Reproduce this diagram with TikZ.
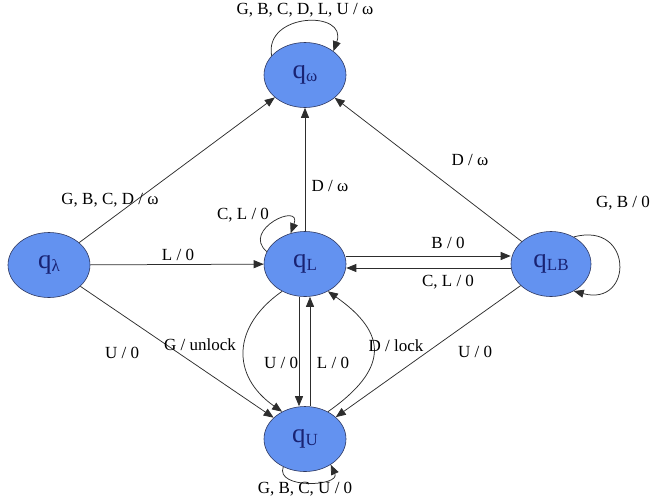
\documentclass[tikz,border=0pt]{standalone}
\usepackage{fontspec}
\setmainfont{Liberation Serif}
\usetikzlibrary{arrows.meta,shapes.geometric}
\definecolor{statefill}{RGB}{99,146,240}
\definecolor{stateline}{RGB}{45,55,95}
\definecolor{statetext}{RGB}{25,35,115}
\definecolor{edgecol}{RGB}{45,45,45}
% state name: a large q with a small, slightly lowered index
\newcommand\stname[1]{q\raisebox{-0.2ex}{\fontsize{17}{17}\selectfont #1}}
\tikzset{
  state/.style={ellipse, draw=stateline, fill=statefill, line width=0.6pt,
    minimum width=82pt, minimum height=65pt, inner sep=0pt,
    text=statetext, font=\fontsize{27}{28}\selectfont},
  trans/.style={draw=edgecol, line width=0.75pt,
    -{Triangle[length=10pt,width=8pt]}},
  lbl/.style={font=\fontsize{17}{19}\selectfont, inner sep=1pt}
}
\begin{document}
\begin{tikzpicture}[x=1pt,y=1pt]
\useasboundingbox (0,0) rectangle (652,-499);

% states
\node[state] (qW) at (305,-75) {\stname{ω}};
\node[state] (qA) at (49,-265) {\stname{λ}};
\node[state] (qL) at (305,-264) {\stname{L}};
\node[state,minimum width=80pt] (qLB) at (551,-264) {\stname{LB}};
\node[state] (qU) at (305,-439) {\stname{U}};

% transitions out of q_lambda
\draw[trans] (qA) -- (qW);
\draw[trans] (qA) -- (qL);
\draw[trans] (qA) -- (qU);

% into q_omega and q_U from the middle and right
\draw[trans] (qL) -- (qW);
\draw[trans] (qLB) -- (qW);
\draw[trans] (qLB) -- (qU);

% between q_L and q_LB
\draw[trans] ([yshift=8pt]qL.east) -- ([yshift=8pt]qLB.west);
\draw[trans] ([yshift=-4pt]qLB.west) -- ([yshift=-4pt]qL.east);

% between q_L and q_U
\draw[trans] ([xshift=-6pt]qL.south) -- ([xshift=-6pt]qU.north);
\draw[trans] ([xshift=5pt]qU.north) -- ([xshift=5pt]qL.south);
\draw[trans] (qL.230) to[out=215, in=145, distance=62pt] (qU.130);
\draw[trans] (qU.50) to[out=35, in=-35, distance=74pt] (qL.-50);

% self loops
\draw[trans] (qW.150) to[out=100, in=70, distance=44pt] (qW.40);
\draw[trans] (qL.162) to[out=140, in=70, distance=34pt] (qL.115);
\draw[trans] (qLB.50) to[out=15, in=-15, distance=62pt] (qLB.-50);
\draw[trans] (qU.232) to[out=250, in=295, distance=24pt] (qU.-45);

% labels
\node[lbl] (l1) at (305,-10) {G, B, C, D, L, U / ω};
\node[lbl] (l2) at (110,-200) {G, B, C, D / ω};
\node[lbl] (l3) at (178,-255) {L / 0};
\node[lbl] (l4) at (122,-353) {U / 0};
\node[lbl] (l5) at (243,-215) {C, L / 0};
\node[lbl] (l6) at (330,-186) {D / ω};
\node[lbl] (l7) at (448,-243) {B / 0};
\node[lbl] (l8) at (448,-282) {C, L / 0};
\node[lbl] (l9) at (623,-203) {G, B / 0};
\node[lbl] (l10) at (470,-160) {D / ω};
\node[lbl] (l11) at (475,-352) {U / 0};
\node[lbl] (l12) at (200,-345) {G / unlock};
\node[lbl] (l13) at (281,-363) {U / 0};
\node[lbl] (l14) at (333,-363) {L / 0};
\node[lbl] (l15) at (396,-346) {D / lock};
\node[lbl] (l16) at (305,-489) {G, B, C, U / 0};
\end{tikzpicture}
\end{document}
